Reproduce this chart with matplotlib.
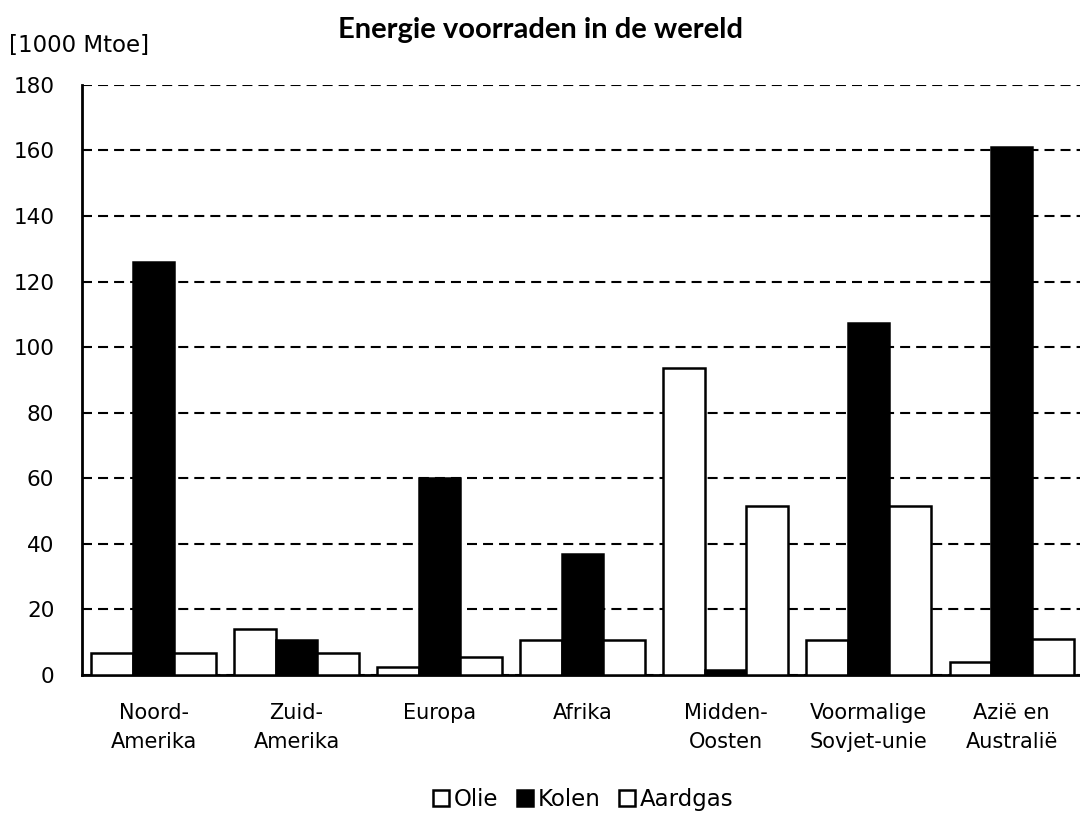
import matplotlib
matplotlib.use("Agg")
import matplotlib.pyplot as plt
import numpy as np

categories = ["Noord-\nAmerika", "Zuid-\nAmerika", "Europa", "Afrika",
              "Midden-\nOosten", "Voormalige\nSovjet-unie", "Azië en\nAustralië"]
olie = [6.5, 14, 2.5, 10.5, 93.5, 10.5, 4]
kolen = [126, 10.5, 60, 37, 1.5, 107.5, 161]
aardgas = [6.5, 6.5, 5.5, 10.5, 51.5, 51.5, 11]
yticks = [0, 20, 40, 60, 80, 100, 120, 140, 160, 180]

plt.rcParams['font.family'] = ['DejaVu Sans']

fig = plt.figure(figsize=(10.8, 8.33), dpi=100)
ax = fig.add_axes([0.076, 0.19, 0.927, 0.708])

x = np.arange(len(categories))
w = 0.29
lw = 1.8
ax.bar(x - w, olie, w, color='white', edgecolor='black', linewidth=lw, label='Olie', zorder=3)
ax.bar(x, kolen, w, color='black', edgecolor='black', linewidth=lw, label='Kolen', zorder=3)
ax.bar(x + w, aardgas, w, color='white', edgecolor='black', linewidth=lw, label='Aardgas', zorder=3)

ax.set_xlim(-0.5, len(categories) - 0.5)
ax.set_ylim(0, 180)
ax.set_yticks(yticks)
ax.set_yticklabels([str(t) for t in yticks], fontsize=15.5)
ax.set_xticks(x)
ax.set_xticklabels(categories, fontsize=15, linespacing=1.6)
ax.tick_params(axis='x', length=0, pad=20)
ax.tick_params(axis='y', length=0, pad=20)

ax.yaxis.grid(True, linestyle=(0, (4.8, 2.9)), color='black', linewidth=1.5, zorder=0)
for s in ['top', 'right']:
    ax.spines[s].set_visible(False)
ax.spines['left'].set_linewidth(2)
ax.spines['bottom'].set_linewidth(2)

fig.text(0.5, 0.964, "Energie voorraden in de wereld", ha='center', va='center',
         fontsize=21, fontweight='bold', family=['Lato', 'DejaVu Sans'])
fig.text(0.008, 0.945, "[1000 Mtoe]", ha='left', va='center', fontsize=16.5)

fig.legend(loc='center', bbox_to_anchor=(0.54, 0.04), ncol=3, frameon=False,
           fontsize=16.5, handlelength=0.7, handleheight=0.7, handletextpad=0.2,
           columnspacing=0.8)

fig.savefig("out.png", dpi=100)
